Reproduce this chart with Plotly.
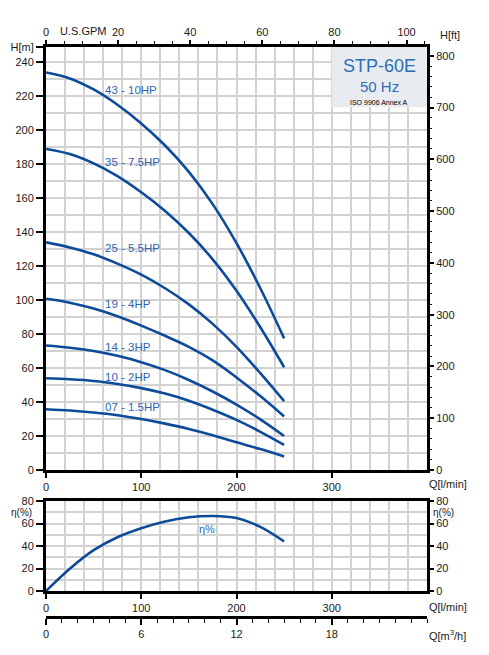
import plotly.graph_objects as go

# ---------------- data ----------------
q_lmin = [0, 25, 50, 75, 100, 125, 150, 175, 200, 225, 250]

curve_names = ["43 - 10HP", "35 - 7.5HP", "25 - 5.5HP", "19 - 4HP",
               "14 - 3HP", "10 - 2HP", "07 - 1.5HP"]
h_43 = [234, 230.5, 224, 215, 204, 191, 175.5, 156.5, 133.5, 107, 77.5]
h_35 = [189, 186, 180.5, 173, 163.5, 152.5, 139.5, 124, 105.5, 84, 60.5]
h_25 = [134, 131, 127, 121.5, 115, 107, 97.5, 86, 72.5, 57, 40.5]
h_19 = [100.8, 98.5, 95, 90.5, 85, 79, 72.5, 64.5, 54.5, 43.5, 31.5]
h_14 = [73.3, 72, 70, 67.2, 63.5, 58.8, 53, 46.2, 38.5, 29.8, 20]
h_10 = [54, 53.4, 52.4, 50.6, 48.2, 45, 40.8, 35.5, 29.5, 22.5, 14.8]
h_07 = [35.8, 35, 33.8, 32.2, 30, 27.3, 24.2, 20.5, 16.3, 12.3, 8]
head_series = [h_43, h_35, h_25, h_19, h_14, h_10, h_07]
label_heads = [223.5, 181.5, 130.5, 97.5, 72.2, 54.9, 37.3]

eff = [0, 19.8, 36.3, 47.8, 55.8, 61.8, 65.5, 66.7, 64.8, 57, 44]

h_m_ticks = [0, 20, 40, 60, 80, 100, 120, 140, 160, 180, 200, 220, 240]
h_ft_ticks = [0, 100, 200, 300, 400, 500, 600, 700, 800]
gpm_ticks = [0, 20, 40, 60, 80, 100]
q_ticks = [0, 100, 200, 300]
m3h_ticks = [0, 6, 12, 18]
eff_ticks = [0, 20, 40, 60, 80]

# ---------------- style ----------------
CURVE = "#0e4a9a"
LABEL = "#2e64b3"
GRID = "#d2d2d2"
FONT = "Arial, Liberation Sans, sans-serif"
H_TOP = 249
FT_PER_M = 3.28084
LMIN_PER_GPM = 3.78541
LMIN_PER_M3H = 1000 / 60

fig = go.Figure()

for name, hs, lh in zip(curve_names, head_series, label_heads):
    fig.add_trace(go.Scatter(x=q_lmin, y=hs, mode="lines", line=dict(color=CURVE, width=2.6, shape="spline"),
                             xaxis="x", yaxis="y", hoverinfo="skip", showlegend=False))
    fig.add_annotation(x=60, y=lh, xref="x", yref="y", text=name, showarrow=False,
                       xanchor="left", yanchor="middle", font=dict(size=11.5, color=LABEL))

fig.add_trace(go.Scatter(x=q_lmin, y=eff, mode="lines", line=dict(color=CURVE, width=2.6, shape="spline"),
                         xaxis="x2", yaxis="y2", hoverinfo="skip", showlegend=False))
fig.add_annotation(x=169, y=55, xref="x2", yref="y2", text="η%", showarrow=False,
                   font=dict(size=11, color=LABEL))

# dummy traces to register the secondary axes
fig.add_trace(go.Scatter(x=[0], y=[0], xaxis="x4", yaxis="y3", mode="markers",
                         marker=dict(opacity=0), hoverinfo="skip", showlegend=False))
fig.add_trace(go.Scatter(x=[0], y=[0], xaxis="x3", yaxis="y4", mode="markers",
                         marker=dict(opacity=0), hoverinfo="skip", showlegend=False))

tick_font = dict(size=11, color="#1a1a1a", family=FONT)
frame = dict(showline=True, linewidth=3, linecolor="black", mirror=True)

main_dom = [(617 - 470) / 570, 1]
eff_dom = [(617 - 591) / 570, (617 - 501) / 570]

fig.update_layout(
    width=489, height=655,
    margin=dict(l=46, r=62, t=47, b=38),
    paper_bgcolor="white", plot_bgcolor="white",
    font=dict(family=FONT, size=11, color="#1a1a1a"),
    showlegend=False,
    xaxis=dict(domain=[0, 1], anchor="y", range=[0, 400], tickmode="array",
               tickvals=q_ticks, ticks="outside", ticklen=5, tickwidth=1.5, tickcolor="black",
               showgrid=True, gridcolor=GRID, gridwidth=1.5, zeroline=False,
               minor=dict(tick0=0, dtick=20, showgrid=True, gridcolor=GRID, gridwidth=1.5, ticks=""),
               tickfont=tick_font, **frame),
    yaxis=dict(domain=main_dom, anchor="x", range=[0, H_TOP], tickmode="array",
               tickvals=h_m_ticks + [H_TOP], ticktext=[str(v) for v in h_m_ticks] + ["H[m]"],
               ticks="outside", ticklen=7, tickwidth=1.5, tickcolor="black",
               showgrid=True, gridcolor=GRID, gridwidth=1.5, zeroline=False,
               minor=dict(tick0=0, dtick=10, showgrid=True, gridcolor=GRID, gridwidth=1.5, ticks=""),
               tickfont=tick_font, **frame),
    yaxis3=dict(overlaying="y", side="right", anchor="x", range=[0, H_TOP * FT_PER_M],
                tickmode="array", tickvals=h_ft_ticks, ticks="outside", ticklen=6, tickwidth=1.5,
                tickcolor="black", showgrid=False, zeroline=False, showline=False,
                minor=dict(tick0=0, dtick=20, ticks="outside", ticklen=4, tickwidth=1.2, tickcolor="black", showgrid=False),
                tickfont=tick_font),
    xaxis4=dict(overlaying="x", side="top", anchor="y", range=[0, 400 / LMIN_PER_GPM],
                tickmode="array", tickvals=gpm_ticks, ticks="outside", ticklen=6, tickwidth=1.5,
                tickcolor="black", showgrid=False, zeroline=False, showline=False,
                minor=dict(tick0=0, dtick=5, ticks="outside", ticklen=5, tickwidth=1.2, tickcolor="black", showgrid=False),
                tickfont=tick_font),
    xaxis2=dict(domain=[0, 1], anchor="y2", range=[0, 400], tickmode="array",
                tickvals=q_ticks, ticks="outside", ticklen=5, tickwidth=1.5, tickcolor="black",
                showgrid=True, gridcolor=GRID, gridwidth=1.5, zeroline=False,
                minor=dict(tick0=0, dtick=20, showgrid=True, gridcolor=GRID, gridwidth=1.5, ticks=""),
                tickfont=tick_font, **frame),
    yaxis2=dict(domain=eff_dom, anchor="x2", range=[0, 80], tickmode="array",
                tickvals=eff_ticks, ticks="outside", ticklen=7, tickwidth=1.5, tickcolor="black",
                showgrid=True, gridcolor=GRID, gridwidth=1.5, zeroline=False,
                minor=dict(tick0=0, dtick=10, showgrid=True, gridcolor=GRID, gridwidth=1.5, ticks=""),
                tickfont=tick_font, **frame),
    yaxis4=dict(overlaying="y2", side="right", anchor="x2", range=[0, 80], tickmode="array",
                tickvals=eff_ticks, ticks="outside", ticklen=6, tickwidth=1.5, tickcolor="black",
                showgrid=False, zeroline=False, showline=False, tickfont=tick_font),
    xaxis3=dict(overlaying="x2", anchor="free", position=0, side="bottom",
                range=[0, 400 / LMIN_PER_M3H], tickmode="array", tickvals=m3h_ticks,
                ticks="outside", ticklen=6, tickwidth=1.5, tickcolor="black",
                showgrid=False, zeroline=False, showline=True, linewidth=3, linecolor="black",
                minor=dict(tick0=0, dtick=1, ticks="outside", ticklen=4, tickwidth=1.2, tickcolor="black", showgrid=False),
                tickfont=tick_font),
)

# model box
fig.add_shape(type="rect", xref="x", yref="y", x0=300, x1=400, y0=213.5, y1=H_TOP,
              fillcolor="#e8ecf0", line=dict(width=0), layer="above")
fig.add_annotation(x=350, y=238, xref="x", yref="y", text="STP-60E", showarrow=False,
                   font=dict(size=18, color="#2e6db5"))
fig.add_annotation(x=350, y=226, xref="x", yref="y", text="50 Hz", showarrow=False,
                   font=dict(size=15, color="#2e6db5"))
fig.add_annotation(x=350, y=216.5, xref="x", yref="y", text="ISO 9906 Annex A", showarrow=False,
                   font=dict(size=7, color="black"))

# axis titles as text
def px2paper(px, py):
    return (px - 46) / 381, (617 - py) / 570

for text, px, py, xa, fs in [("Q[l/min]", 427, 484, "left", 11), ("Q[l/min]", 427, 607, "left", 11),
                             ("Q[m<sup>3</sup>/h]", 427, 635, "left", 11), ("U.S.GPM", 83, 31, "center", 11),
                             ("H[ft]", 450, 35, "center", 11), ("η(%)", 34, 512, "right", 10),
                             ("η(%)", 431, 512, "left", 10)]:
    xp, yp = px2paper(px, py)
    fig.add_annotation(x=xp, y=yp, xref="paper", yref="paper", text=text, showarrow=False,
                       xanchor=xa, yanchor="middle", font=dict(size=fs, color="#1a1a1a"))

fig.write_html("out.html")
